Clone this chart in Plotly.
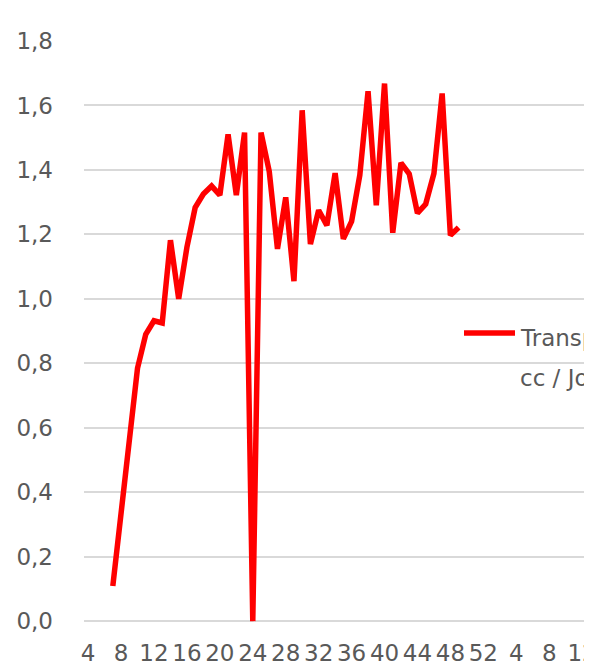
import plotly.graph_objects as go

# Week categories (year 1 weeks 4..52, then year 2 weeks 1..13)
weeks = list(range(4, 53)) + list(range(1, 14))

# Transpiration values (cc / Jour); None where no data
transpiration = [
    None, None, None,            # weeks 4-6
    0.109, 0.33, 0.55, 0.785,    # 7-10
    0.890, 0.932, 0.925, 1.182,  # 11-14
    1.000, 1.160, 1.283, 1.325,  # 15-18
    1.350, 1.322, 1.510, 1.322,  # 19-22
    1.516, 0.0, 1.516, 1.395,    # 23-26
    1.155, 1.315, 1.055, 1.585,  # 27-30
    1.170, 1.275, 1.228, 1.390,  # 31-34
    1.186, 1.240, 1.384, 1.644,  # 35-38
    1.290, 1.668, 1.205, 1.422,  # 39-42
    1.388, 1.266, 1.294, 1.389,  # 43-46
    1.637, 1.197, 1.221,         # 47-49
]

y_ticks = [0.0, 0.2, 0.4, 0.6, 0.8, 1.0, 1.2, 1.4, 1.6, 1.8]
y_ticktext = ["0,0", "0,2", "0,4", "0,6", "0,8", "1,0", "1,2", "1,4", "1,6", "1,8"]

legend_line1 = "Transpiration"
legend_line2 = "cc / Jour"

x_idx = list(range(len(weeks)))
vals = transpiration + [None] * (len(weeks) - len(transpiration))

tick_idx = x_idx[::4]
tick_txt = [str(weeks[i]) for i in tick_idx]

FONT = "DejaVu Sans"
GRAY = "#595959"
GRID = "#d9d9d9"

# The page body has an 8px default margin: the figure is drawn at (8, 8)
OFF = 8
W, H = 592 - OFF, 667 - OFF
left, top, bottom = 84 - OFF, 41 - OFF, 42

fig = go.Figure()
fig.add_trace(go.Scatter(
    x=x_idx, y=vals, mode="lines",
    line=dict(color="#ff0000", width=5.5),
    connectgaps=False, showlegend=False, name=legend_line1 + " " + legend_line2,
))

fig.update_layout(
    width=W, height=H,
    margin=dict(l=left, r=0, t=top, b=bottom, autoexpand=False),
    paper_bgcolor="white", plot_bgcolor="white",
    font=dict(family=FONT, size=23, color=GRAY),
    showlegend=False,
)
fig.update_xaxes(
    range=[-0.5, 61.2], automargin=False,
    tickmode="array", tickvals=tick_idx, ticktext=tick_txt,
    tickangle=0, showgrid=False, zeroline=False, showline=False,
    ticks="", ticklabelstandoff=12, ticklabeloverflow="allow",
    tickfont=dict(family=FONT, size=23, color=GRAY),
)
fig.update_yaxes(
    range=[-0.012, 1.8], automargin=False,
    tickmode="array", tickvals=y_ticks, ticktext=y_ticktext,
    showgrid=True, gridcolor=GRID, gridwidth=1.5,
    zeroline=True, zerolinecolor=GRID, zerolinewidth=1.5,
    showline=False, ticks="", ticklabelstandoff=30,
    tickfont=dict(family=FONT, size=23, color=GRAY),
)

# Manual legend (line sample + two text lines), page-pixel positions
pw = W - left
ph = H - top - bottom
def px(x):
    return (x - OFF - left) / pw
def py(y):
    return 1 - (y - OFF - top) / ph

fig.add_shape(type="line", xref="paper", yref="paper",
              x0=px(464), x1=px(515), y0=py(333), y1=py(333),
              line=dict(color="#ff0000", width=5.5))
fig.add_annotation(xref="paper", yref="paper", x=px(518), y=py(338),
                   xanchor="left", yanchor="middle", showarrow=False,
                   text=legend_line1, font=dict(family=FONT, size=23, color=GRAY))
fig.add_annotation(xref="paper", yref="paper", x=px(518), y=py(378),
                   xanchor="left", yanchor="middle", showarrow=False,
                   text=legend_line2, font=dict(family=FONT, size=23, color=GRAY))

fig.write_html("out.html")
